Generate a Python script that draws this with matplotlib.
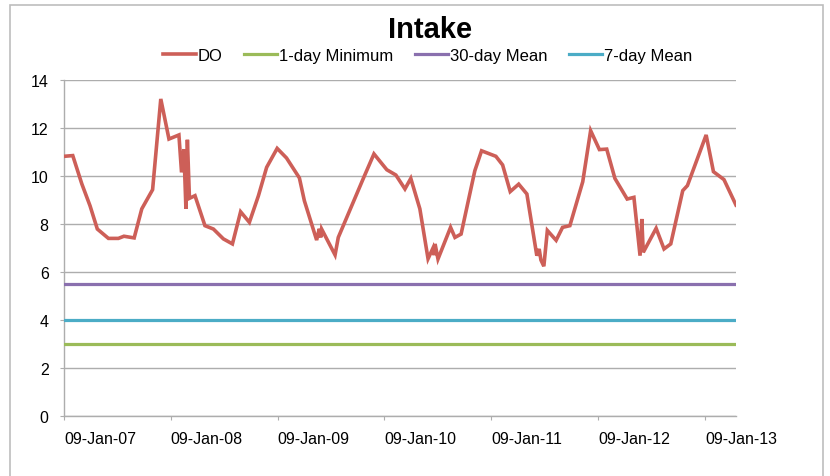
import matplotlib
matplotlib.use("Agg")
import matplotlib.pyplot as plt
import matplotlib.dates as mdates
from matplotlib.patches import Rectangle
import numpy as np

plt.rcParams["font.family"] = ["Liberation Sans", "DejaVu Sans"]

# dissolved oxygen samples at the intake (mg/L)
sample_dates = [
    "2007-01-09", "2007-02-08", "2007-03-11", "2007-04-08", "2007-05-03", "2007-06-10",
    "2007-07-14", "2007-08-02", "2007-09-06", "2007-10-02", "2007-11-08", "2007-12-06",
    "2008-01-03", "2008-02-06", "2008-02-15", "2008-02-23", "2008-03-01", "2008-03-06",
    "2008-03-13", "2008-04-01", "2008-05-05", "2008-06-03", "2008-07-07", "2008-08-07",
    "2008-09-04", "2008-10-04", "2008-11-04", "2008-12-02", "2009-01-07", "2009-02-08",
    "2009-03-24", "2009-04-10", "2009-05-22", "2009-05-31", "2009-06-05", "2009-06-08",
    "2009-07-24", "2009-08-04", "2009-10-28", "2009-12-04", "2010-01-17", "2010-02-17",
    "2010-03-20", "2010-04-09", "2010-05-10", "2010-06-07", "2010-06-24", "2010-06-28",
    "2010-07-01", "2010-07-11", "2010-08-23", "2010-09-07", "2010-09-28", "2010-11-14",
    "2010-12-07", "2011-01-25", "2011-02-17", "2011-03-15", "2011-04-13", "2011-05-11",
    "2011-06-14", "2011-06-22", "2011-06-28", "2011-07-08", "2011-07-20", "2011-08-19",
    "2011-09-10", "2011-10-05", "2011-11-18", "2011-12-15", "2012-01-14", "2012-02-08",
    "2012-03-07", "2012-04-18", "2012-05-11", "2012-06-01", "2012-06-07", "2012-06-12",
    "2012-07-26", "2012-08-22", "2012-09-14", "2012-10-25", "2012-11-10", "2013-01-13",
    "2013-02-07", "2013-03-15", "2013-04-25",
]
do_values = [
    10.82, 10.85, 9.67, 8.76, 7.79, 7.40,
    7.40, 7.49, 7.42, 8.63, 9.43, 13.21,
    11.54, 11.71, 10.15, 11.12, 8.63, 11.51,
    9.07, 9.18, 7.93, 7.79, 7.38, 7.17,
    8.51, 8.07, 9.18, 10.36, 11.15, 10.75,
    9.92, 8.97, 7.33, 7.80, 7.44, 7.79,
    6.71, 7.44, 9.88, 10.92, 10.26, 10.04,
    9.46, 9.90, 8.63, 6.55, 7.00, 6.70,
    7.17, 6.54, 7.86, 7.44, 7.58, 10.22,
    11.05, 10.82, 10.46, 9.35, 9.66, 9.25,
    6.68, 6.96, 6.50, 6.24, 7.73, 7.32,
    7.86, 7.93, 9.76, 11.89, 11.10, 11.12,
    9.90, 9.04, 9.11, 6.68, 8.21, 6.82,
    7.82, 6.96, 7.17, 9.39, 9.60, 11.71,
    10.18, 9.85, 8.79,
]

# regulatory criteria (mg/L)
min_1day = 3.0
mean_30day = 5.5
mean_7day = 4.0

tick_dates = ["2007-01-09", "2008-01-09", "2009-01-09", "2010-01-09",
              "2011-01-09", "2012-01-09", "2013-01-09"]

dates = np.array(sample_dates, dtype="datetime64[D]")
ticks = np.array(tick_dates, dtype="datetime64[D]")
span = [dates[0], dates[-1]]

fig = plt.figure(figsize=(8.3, 4.77), dpi=100)
ax = fig.add_axes([0.0771, 0.1258, 0.8096, 0.7044])

grid_c = "#ADADAD"
ax.plot(dates, do_values, color="#CD5F58", linewidth=2.6, label="DO",
        solid_joinstyle="miter", zorder=5)
ax.plot(span, [min_1day, min_1day], color="#9BBB59", linewidth=2.3,
        label="1-day Minimum", zorder=4)
ax.plot(span, [mean_30day, mean_30day], color="#8A70AE", linewidth=2.3,
        label="30-day Mean", zorder=4)
ax.plot(span, [mean_7day, mean_7day], color="#4BACC6", linewidth=2.3,
        label="7-day Mean", zorder=4)

ax.set_ylim(0, 14)
ax.set_yticks(range(0, 15, 2))
ax.set_xlim(dates[0], dates[-1])
ax.set_xticks(ticks)
ax.xaxis.set_major_formatter(mdates.DateFormatter("%d-%b-%y"))

ax.grid(axis="y", color=grid_c, linewidth=1.0)
ax.set_axisbelow(True)
for side in ("top", "right"):
    ax.spines[side].set_visible(False)
for side in ("left", "bottom"):
    ax.spines[side].set_color(grid_c)
    ax.spines[side].set_linewidth(1.0)

ax.tick_params(axis="y", length=3, color=grid_c, pad=8, labelsize=11.5)
ax.tick_params(axis="x", length=3, color=grid_c, pad=8, labelsize=11.5)
for lbl in ax.get_xticklabels():
    lbl.set_horizontalalignment("left")

fig.text(0.518, 0.938, "Intake", ha="center", va="center",
         fontsize=21, fontweight="bold")
fig.legend(loc="center", bbox_to_anchor=(0.515, 0.882), ncol=4, frameon=False,
           fontsize=12, handlelength=2.0, handletextpad=0.1,
           columnspacing=1.3, borderaxespad=0)

# chart frame
fig.patches.append(Rectangle((0.0125, -0.05), 0.979, 1.0374, transform=fig.transFigure,
                             fill=False, edgecolor="#BDBDBD", linewidth=1.2))

fig.savefig("out.png", dpi=100)
